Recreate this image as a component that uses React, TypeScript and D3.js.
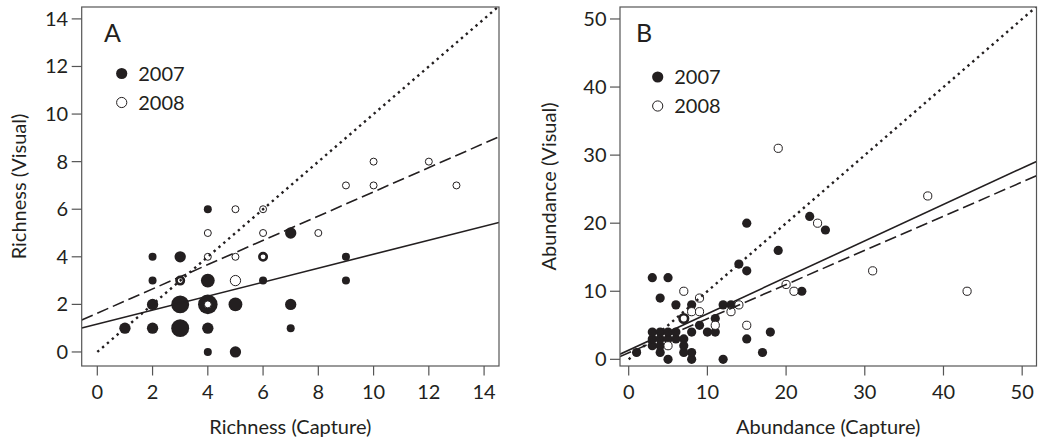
import React from "react";
import * as d3 from "d3";

// ---------- data ----------
// Panel A: richness [capture, visual, n sites]
const richness2007: [number, number, number][] = [
  [1, 1, 2], [2, 1, 2], [3, 1, 5], [4, 1, 2], [7, 1, 1],
  [2, 2, 2], [3, 2, 5], [4, 2, 6], [5, 2, 3], [7, 2, 2],
  [2, 3, 1], [4, 3, 3], [6, 3, 1], [9, 3, 1],
  [2, 4, 1], [3, 4, 2], [9, 4, 1],
  [7, 5, 2], [4, 6, 1], [4, 0, 1], [5, 0, 2],
];
const richness2008: [number, number, number][] = [
  [4, 2, 1], [3, 3, 1], [3, 3, 1], [5, 3, 2], [4, 4, 1], [5, 4, 1],
  [6, 4, 1], [6, 4, 1], [4, 5, 1], [6, 5, 1], [8, 5, 1], [5, 6, 1],
  [6, 6, 1], [9, 7, 1], [10, 7, 1], [13, 7, 1], [10, 8, 1], [12, 8, 1],
];
// Panel B: abundance [capture, visual]
const abundance2007: [number, number][] = [
  [1, 1], [3, 12], [5, 12], [4, 9], [6, 8], [8, 8], [8, 4], [9, 5], [10, 4],
  [11, 4], [11, 6], [12, 8], [13, 8], [14, 14], [15, 20], [15, 13], [15, 3],
  [19, 16], [18, 4], [17, 1], [12, 0], [8, 0], [5, 0], [8, 1], [4, 1], [7, 1],
  [22, 10], [23, 21], [25, 19],
  [3, 2], [3, 3], [3, 4], [4, 2], [4, 3], [4, 4], [5, 3], [5, 4], [6, 3],
  [6, 4], [7, 2], [7, 3],
];
const abundance2008: [number, number][] = [
  [19, 31], [38, 24], [24, 20], [31, 13], [43, 10], [20, 11], [21, 10],
  [7, 10], [9, 9], [8, 7], [9, 7], [7, 6], [7, 6], [13, 7], [14, 8],
  [11, 5], [15, 5], [5, 2],
];
// regression lines [intercept, slope]
const richnessFit2007 = [1.17, 0.294];
const richnessFit2008 = [1.63, 0.51];
const abundanceFit2007 = [1.35, 0.535];
const abundanceFit2008 = [0.95, 0.502];

const richnessTicks = [0, 2, 4, 6, 8, 10, 12, 14];
const abundanceTicks = [0, 10, 20, 30, 40, 50];
const legendLabels = ["2007", "2008"];

const FONT = "Lato, 'Open Sans', sans-serif";
const INK = "#231f20";

type Pt = { x: number; y: number; n: number };

function Panel(props: {
  letter: string;
  left: number; right: number; top: number; bottom: number;
  xDomain: [number, number]; yDomain: [number, number];
  ticks: number[];
  xTitle: string; yTitle: string; yTitleX: number;
  filled: Pt[]; open: Pt[];
  fitSolid: number[]; fitDashed: number[];
  baseR: number;
  legendX: number; legendY: number; letterX: number;
  id: string;
}) {
  const p = props;
  const x = d3.scaleLinear().domain(p.xDomain).range([p.left, p.right]);
  const y = d3.scaleLinear().domain(p.yDomain).range([p.bottom, p.top]);
  const r = (n: number) => p.baseR * Math.sqrt(n);
  const line = d3.line<[number, number]>().x((d) => x(d[0])).y((d) => y(d[1]));
  const x0 = p.xDomain[0], x1 = p.xDomain[1];
  const fitPts = (f: number[]): [number, number][] => [[x0, f[0] + f[1] * x0], [x1, f[0] + f[1] * x1]];
  const oneToOne: [number, number][] = [[0, 0], [x1 + 1, x1 + 1]];
  const key = (d: Pt) => `${d.x},${d.y},${d.n}`;
  const dup = d3.rollup(p.open, (v) => v.length, key);
  const openUnique = Array.from(new Map(p.open.map((d) => [key(d), d])).values());
  const midX = (p.left + p.right) / 2;
  const midY = (p.top + p.bottom) / 2;
  return (
    <g>
      <defs>
        <clipPath id={p.id}>
          <rect x={p.left} y={p.top} width={p.right - p.left} height={p.bottom - p.top} />
        </clipPath>
      </defs>
      <g clipPath={`url(#${p.id})`}>
        {p.filled.map((d, i) => (
          <circle key={"f" + i} cx={x(d.x)} cy={y(d.y)} r={r(d.n)} fill={INK} />
        ))}
        {openUnique.map((d, i) => {
          const k = dup.get(key(d)) || 1;
          const sw = 1 + 1.6 * (k - 1);
          return (
            <circle key={"o" + i} cx={x(d.x)} cy={y(d.y)} r={r(d.n) - (k > 1 ? 0.3 : 0.5)}
              fill="#fff" stroke={INK} strokeWidth={sw} />
          );
        })}
        <path d={line(oneToOne) || ""} fill="none" stroke={INK} strokeWidth={2.4} strokeDasharray="2.4,4" />
        <path d={line(fitPts(p.fitDashed)) || ""} fill="none" stroke={INK} strokeWidth={1.6} strokeDasharray="12,5" />
        <path d={line(fitPts(p.fitSolid)) || ""} fill="none" stroke={INK} strokeWidth={1.6} />
      </g>
      <rect x={p.left} y={p.top} width={p.right - p.left} height={p.bottom - p.top}
        fill="none" stroke="#555" strokeWidth={1.2} />
      {p.ticks.map((t) => (
        <g key={"xt" + t}>
          <line x1={x(t)} x2={x(t)} y1={p.bottom} y2={p.bottom + 9.5} stroke="#555" strokeWidth={1.2} />
          <text x={x(t)} y={p.bottom + 33} textAnchor="middle" fontSize={20} fill={INK} fontFamily={FONT}>{t}</text>
        </g>
      ))}
      {p.ticks.map((t) => (
        <g key={"yt" + t}>
          <line x1={p.left - 10} x2={p.left} y1={y(t)} y2={y(t)} stroke="#555" strokeWidth={1.2} />
          <text x={p.left - 13.5} y={y(t)} dy="0.35em" textAnchor="end" fontSize={20} fill={INK} fontFamily={FONT}>{t}</text>
        </g>
      ))}
      <text x={midX} y={p.bottom + 68} textAnchor="middle" fontSize={20} fill={INK} fontFamily={FONT}>{p.xTitle}</text>
      <text transform={`translate(${p.yTitleX},${midY}) rotate(-90)`} textAnchor="middle" fontSize={20} fill={INK} fontFamily={FONT}>{p.yTitle}</text>
      <text x={p.letterX} y={41.7} fontSize={25} fill={INK} fontFamily={FONT}>{p.letter}</text>
      <circle cx={p.legendX} cy={p.legendY} r={5.6} fill={INK} />
      <text x={p.legendX + 16.5} y={p.legendY} dy="0.36em" fontSize={20} fill={INK} fontFamily={FONT}>{legendLabels[0]}</text>
      <circle cx={p.legendX} cy={p.legendY + 29} r={5.1} fill="#fff" stroke={INK} strokeWidth={1} />
      <text x={p.legendX + 16.5} y={p.legendY + 29} dy="0.36em" fontSize={20} fill={INK} fontFamily={FONT}>{legendLabels[1]}</text>
    </g>
  );
}

export default function App() {
  const toPt3 = (a: [number, number, number][]) => a.map(([x, y, n]) => ({ x, y, n }));
  const toPt2 = (a: [number, number][]) => a.map(([x, y]) => ({ x, y, n: 1 }));
  return (
    <svg width={1038} height={439} style={{ position: "absolute", left: 0, top: 0, background: "#fff" }}>
      <rect width={1038} height={439} fill="#fff" />
      <Panel id="clipA" letter="A" left={81.7} right={499} top={7} bottom={366}
        xDomain={[-0.565, 14.54]} yDomain={[-0.59, 14.5]} ticks={richnessTicks}
        xTitle="Richness (Capture)" yTitle="Richness (Visual)" yTitleX={26}
        filled={toPt3(richness2007)} open={toPt3(richness2008)}
        fitSolid={richnessFit2007} fitDashed={richnessFit2008} baseR={4}
        legendX={121.7} legendY={73.5} letterX={104} />
      <Panel id="clipB" letter="B" left={620} right={1036.5} top={7} bottom={366}
        xDomain={[-1.105, 51.82]} yDomain={[-0.98, 51.76]} ticks={abundanceTicks}
        xTitle="Abundance (Capture)" yTitle="Abundance (Visual)" yTitleX={556}
        filled={toPt2(abundance2007)} open={toPt2(abundance2008)}
        fitSolid={abundanceFit2007} fitDashed={abundanceFit2008} baseR={4.6}
        legendX={657.7} legendY={77} letterX={636} />
    </svg>
  );
}
